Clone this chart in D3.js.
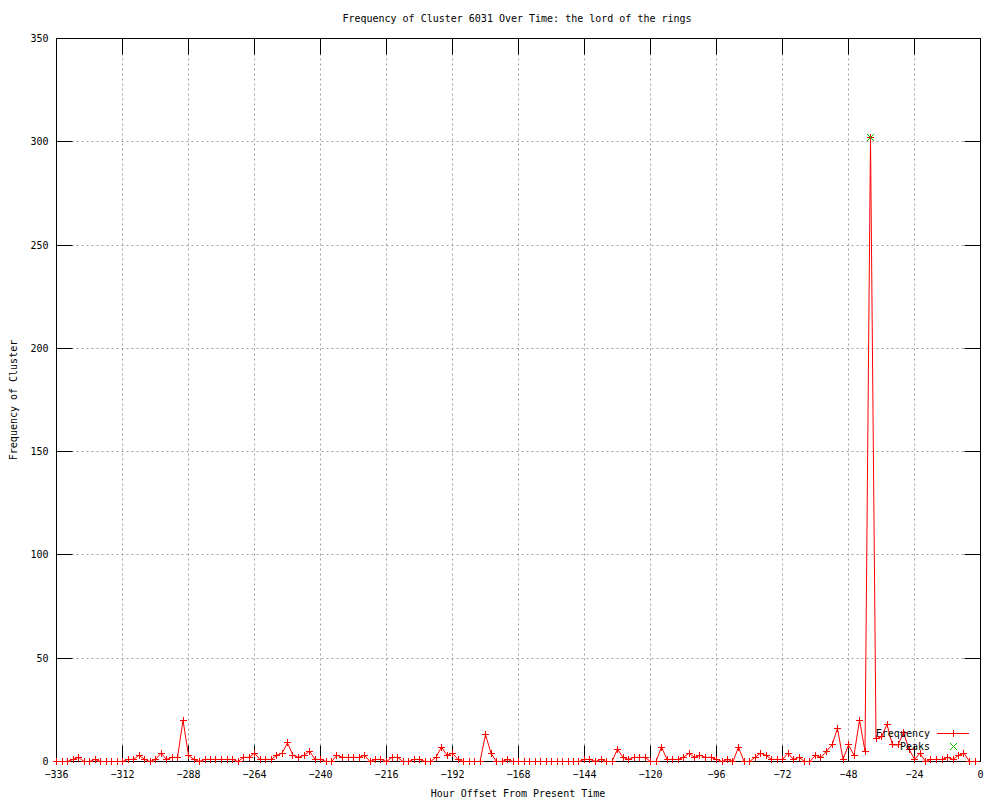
<!DOCTYPE html>
<html>
<head>
<meta charset="utf-8">
<script src="https://cdn.jsdelivr.net/npm/d3@7"></script>
<style>
  html, body { margin: 0; padding: 0; background: #ffffff; }
  svg { display: block; }
  text { font-family: "DejaVu Sans Mono", "Liberation Mono", monospace; font-size: 10px; fill: #000; }
</style>
</head>
<body>
<svg id="chart" width="1000" height="800"></svg>
<script>
// ---- data ----
const title = "Frequency of Cluster 6031 Over Time: the lord of the rings";
const xLabel = "Hour Offset From Present Time";
const yLabel = "Frequency of Cluster";
const seriesNames = ["Frequency", "Peaks"];

// sampling hours (every 2 hours, -336 .. -2)
const hours = d3.range(-336, 0, 2);
const frequency = [
  0, 0, 0, 1, 2, 0, 0, 1, 0, 0, 0, 0,          // -336 .. -314
  0, 1, 1, 3, 1, 0, 1, 4, 1, 2, 2, 20,         // -312 .. -290
  3, 1, 0, 1, 1, 1, 1, 1, 1, 0, 2, 2,          // -288 .. -266
  4, 1, 1, 1, 3, 4, 9, 3, 2, 3, 5, 1,          // -264 .. -242
  1, 0, 0, 3, 2, 2, 2, 2, 3, 0, 1, 1,          // -240 .. -218
  0, 2, 2, 0, 0, 1, 1, 0, 0, 2, 7, 3,          // -216 .. -194
  4, 1, 0, 0, 0, 0, 13, 4, 0, 0, 1, 0,         // -192 .. -170
  0, 0, 0, 0, 0, 0, 0, 0, 0, 0, 0, 0,          // -168 .. -146
  1, 1, 0, 1, 0, 0, 6, 2, 1, 2, 2, 2,          // -144 .. -122
  0, 0, 7, 1, 1, 1, 2, 4, 2, 3, 2, 2,          // -120 .. -98
  1, 0, 1, 0, 7, 0, 0, 2, 4, 3, 1, 1,          // -96 .. -74
  1, 4, 1, 2, 0, 0, 3, 2, 5, 8, 16, 1,         // -72 .. -50
  8, 3, 20, 5, 302, 11, 12, 18, 8, 8, 14, 6,   // -48 .. -26
  1, 4, 0, 1, 1, 1, 2, 1, 3, 4, 0, 0           // -24 .. -2
];
const peakHours = [-40];
const peakValues = [302];
const xTickValues = [-336, -312, -288, -264, -240, -216, -192, -168, -144, -120, -96, -72, -48, -24, 0];
const yTickValues = [0, 50, 100, 150, 200, 250, 300, 350];

(function () {
// ---- layout ----
const pL = 56.5, pR = 980.5, pT = 38.5, pB = 761.5;
const tickLen = 16;
const red = "#ff0000", green = "#00c000";

const svg = d3.select("#chart");
const x = d3.scaleLinear().domain([-336, 0]).range([pL, pR]);
const y = d3.scaleLinear().domain([0, 350]).range([pB, pT]);
const snap = v => Math.round(v - 0.5) + 0.5;

// grid
const grid = svg.append("g").attr("stroke", "#a0a0a0").attr("stroke-width", 1).attr("stroke-dasharray", "2,3");
grid.selectAll("line.vx").data(xTickValues.filter(v => v > -336 && v < 0)).enter().append("line")
  .attr("x1", d => snap(x(d))).attr("x2", d => snap(x(d)))
  .attr("y1", pT).attr("y2", pB);
grid.selectAll("line.hy").data(yTickValues.filter(v => v > 0 && v < 350)).enter().append("line")
  .attr("y1", d => snap(y(d))).attr("y2", d => snap(y(d)))
  .attr("x1", pL).attr("x2", pR);

// axes with mirrored inward ticks
const xs = d => snap(x(d));
xs.domain = x.domain; xs.range = x.range; xs.copy = () => xs;
const ys = d => snap(y(d));
ys.domain = y.domain; ys.range = y.range; ys.copy = () => ys;

const gB = svg.append("g").attr("transform", `translate(0,${pB})`)
  .call(d3.axisBottom(xs).offset(0).tickValues(xTickValues).tickSizeInner(-tickLen).tickSizeOuter(0).tickFormat(d3.format("d")));
gB.select(".domain").remove();
gB.selectAll("text").attr("dy", null).attr("y", 16);

const gT = svg.append("g").attr("transform", `translate(0,${pT})`)
  .call(d3.axisTop(xs).offset(0).tickValues(xTickValues).tickSizeInner(-tickLen).tickSizeOuter(0).tickFormat(""));
gT.select(".domain").remove();

const gL = svg.append("g").attr("transform", `translate(${pL},0)`)
  .call(d3.axisLeft(ys).offset(0).tickValues(yTickValues).tickSizeInner(-tickLen).tickSizeOuter(0).tickFormat(d3.format("d")));
gL.select(".domain").remove();
gL.selectAll("text").attr("x", -8).attr("dy", "0.35em");

const gR = svg.append("g").attr("transform", `translate(${pR},0)`)
  .call(d3.axisRight(ys).offset(0).tickValues(yTickValues).tickSizeInner(-tickLen).tickSizeOuter(0).tickFormat(""));
gR.select(".domain").remove();

svg.selectAll(".tick line").attr("stroke", "#000");
svg.selectAll(".tick text").attr("font-family", "DejaVu Sans Mono").attr("font-size", 10).attr("fill", "#000");

// border
svg.append("rect").attr("x", pL).attr("y", pT).attr("width", pR - pL).attr("height", pB - pT)
  .attr("fill", "none").attr("stroke", "#000").attr("stroke-width", 1);

// frequency line
const pts = hours.map((h, i) => [h, frequency[i]]);
svg.append("path").datum(pts)
  .attr("fill", "none").attr("stroke", red).attr("stroke-width", 1)
  .attr("d", d3.line().x(d => x(d[0])).y(d => y(d[1])));

const m = 3.5;
const plusPath = (cx, cy) => `M${cx - m},${cy}H${cx + m}M${cx},${cy - m}V${cy + m}`;
const crossPath = (cx, cy) => `M${cx - m},${cy - m}L${cx + m},${cy + m}M${cx - m},${cy + m}L${cx + m},${cy - m}`;

svg.append("g").selectAll("path").data(pts).enter().append("path")
  .attr("d", d => plusPath(snap(x(d[0])), snap(y(d[1]))))
  .attr("stroke", red).attr("stroke-width", 1).attr("fill", "none");

// peaks
svg.append("g").selectAll("path").data(peakHours.map((h, i) => [h, peakValues[i]])).enter().append("path")
  .attr("d", d => crossPath(snap(x(d[0])), snap(y(d[1]))))
  .attr("stroke", green).attr("stroke-width", 1).attr("fill", "none");

// legend
const lg = svg.append("g");
lg.append("text").attr("x", 930).attr("y", 737).attr("text-anchor", "end").text(seriesNames[0]);
lg.append("line").attr("x1", 937).attr("x2", 969).attr("y1", 733.5).attr("y2", 733.5).attr("stroke", red);
lg.append("path").attr("d", plusPath(953.5, 733.5)).attr("stroke", red).attr("fill", "none");
lg.append("text").attr("x", 930).attr("y", 750).attr("text-anchor", "end").text(seriesNames[1]);
lg.append("path").attr("d", crossPath(953.5, 746.5)).attr("stroke", green).attr("fill", "none");

// titles
svg.append("text").attr("x", 517).attr("y", 22).attr("text-anchor", "middle").text(title);
svg.append("text").attr("x", 518).attr("y", 797).attr("text-anchor", "middle").text(xLabel);
svg.append("text").attr("transform", "translate(17,400) rotate(-90)").attr("text-anchor", "middle").text(yLabel);
})();
</script>
</body>
</html>
